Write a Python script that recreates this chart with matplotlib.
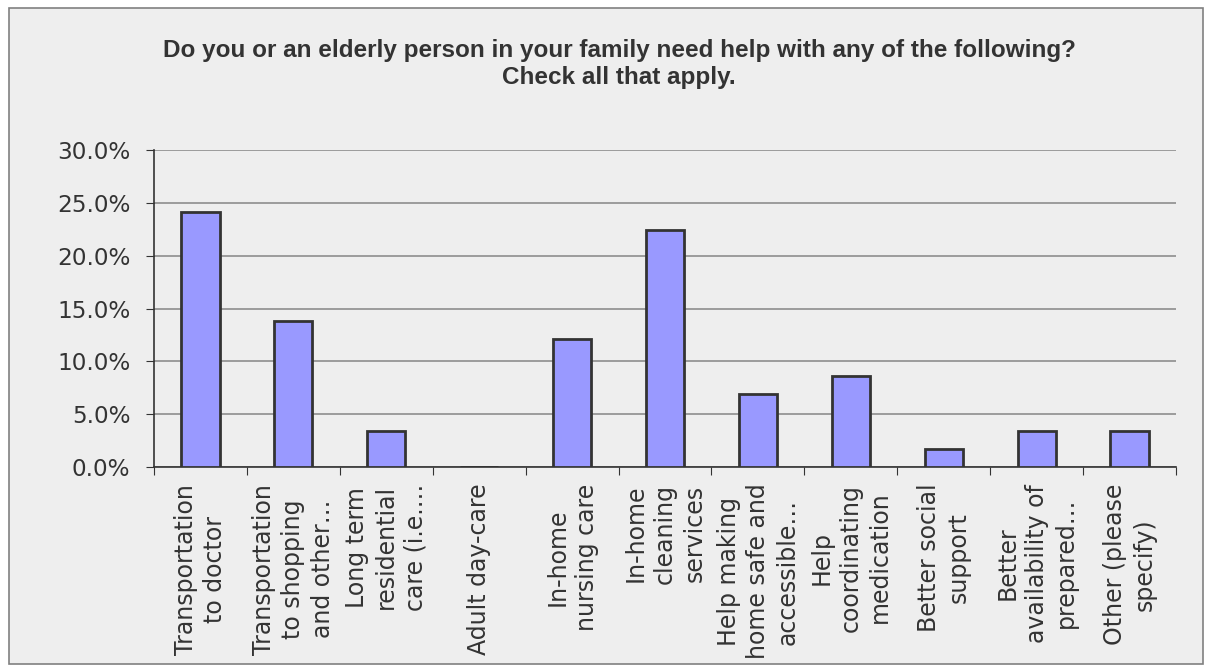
import matplotlib.pyplot as plt
import numpy as np
from matplotlib.patches import Rectangle
from matplotlib.ticker import PercentFormatter

# survey answers (share of respondents)
categories = [
    "Transportation\nto doctor",
    "Transportation\nto shopping\nand other\u2026",
    "Long term\nresidential\ncare (i.e.\u2026",
    "Adult day-care",
    "In-home\nnursing care",
    "In-home\ncleaning\nservices",
    "Help making\nhome safe and\naccessible\u2026",
    "Help\ncoordinating\nmedication",
    "Better social\nsupport",
    "Better\navailability of\nprepared\u2026",
    "Other (please\nspecify)",
]
shares = [24.1, 13.8, 3.4, 0.0, 12.1, 22.4, 6.9, 8.6, 1.7, 3.4, 3.4]
title = ("Do you or an elderly person in your family need help with any of the following?\n"
         "Check all that apply.")

text_col = "#333333"
bg = "#eeeeee"

fig = plt.figure(figsize=(12.06, 6.68), dpi=100, facecolor="white")
# outer chart frame
fig.patches.append(Rectangle((9 / 1206, 1 - 664 / 668), 1194 / 1206, 656 / 668,
                             transform=fig.transFigure, facecolor=bg,
                             edgecolor="#808080", linewidth=1.2, zorder=-1))

ax = fig.add_axes([154 / 1206, 1 - 467 / 668, 1022 / 1206, 317 / 668])
ax.set_facecolor(bg)

x = np.arange(len(categories))
ax.bar(x, shares, width=0.41, color="#9999ff", edgecolor="#333333", linewidth=2, zorder=3)

ax.set_xlim(-0.5, len(categories) - 0.5)
ax.set_ylim(0, 30)
ax.set_yticks(np.arange(0, 31, 5))
ax.yaxis.set_major_formatter(PercentFormatter(decimals=1))
ax.grid(axis="y", color="#858585", linewidth=1.1, zorder=0)

# tick marks on category boundaries, labels in the middle
ax.set_xticks(np.arange(-0.5, len(categories), 1))
ax.set_xticklabels([])
ax.set_xticks(x, categories, minor=True)
ax.tick_params(axis="x", which="major", length=6, color="#333333", direction="out")
ax.tick_params(axis="x", which="minor", length=0, pad=12)
for lbl in ax.get_xticklabels(minor=True):
    lbl.set_rotation(90)
    lbl.set_ha("center")
    lbl.set_va("top")
    lbl.set_multialignment("center")
    lbl.set_fontsize(17)
    lbl.set_color(text_col)
    lbl.set_linespacing(1.28)

ax.tick_params(axis="y", length=6, color="#333333", pad=11, labelsize=16.7, labelcolor=text_col)

for s in ["top", "right"]:
    ax.spines[s].set_visible(False)
for s in ["left", "bottom"]:
    ax.spines[s].set_color("#333333")
    ax.spines[s].set_linewidth(1.2)

fig.text(619 / 1206, 1 - 64 / 668, title, ha="center", va="center", fontsize=17.5,
         fontweight="bold", family="Liberation Sans", color=text_col, linespacing=1.22)

fig.savefig("out.png", dpi=100, facecolor="white")
